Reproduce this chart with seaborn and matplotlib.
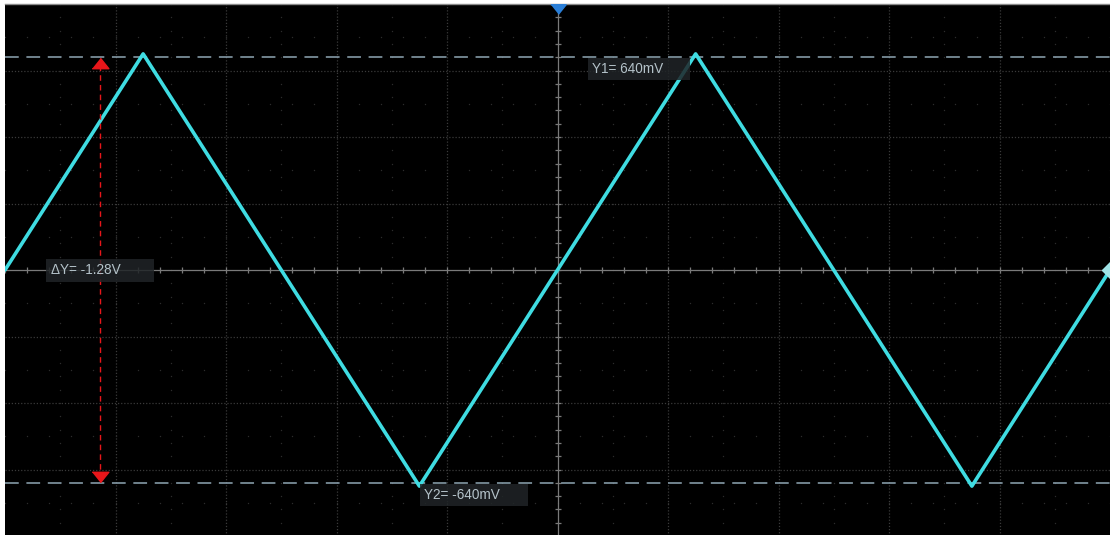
import numpy as np
import pandas as pd
import matplotlib
matplotlib.use("Agg")
import matplotlib.pyplot as plt
import seaborn as sns

# ---- data (time in divisions, voltage in mV) ----
wave_t = [-5.0, -3.75, -1.25, 1.25, 3.75, 5.0]
wave_mv = [0, 650, -650, 650, -650, 0]
cursor_y1 = 640
cursor_y2 = -640
cursor_x = -4.136
label_y1 = "Y1= 640mV"
label_y2 = "Y2= -640mV"
label_dy = "ΔY= -1.28V"

sns.set_style("dark")
plt.rcParams['font.family'] = ['Liberation Sans', 'DejaVu Sans']

fig = plt.figure(figsize=(11.10, 5.35), dpi=100, facecolor='white')
ax = fig.add_axes([5/1110, -1/535, 1105/1110, 532/535])
ax.set_facecolor('black')
ax.set_xlim(-5, 5)
ax.set_ylim(-800, 800)
ax.set_xticks([]); ax.set_yticks([])
for s in ['left', 'right', 'bottom']:
    ax.spines[s].set_visible(False)
ax.spines['top'].set_color('#8a8a8a')
ax.spines['top'].set_linewidth(1.0)
ax.grid(False)

px_x = 10 / 1105.0   # div per pixel
px_y = 1600 / 532.0  # mV per pixel

# main grid (dense dotted)
grid_col = '#3a3a3a'
for gx in range(-4, 5):
    if gx != 0:
        ax.axvline(gx, color=grid_col, lw=0.9, ls=(0, (1, 1.5)), zorder=1)
for gy in range(-600, 601, 200):
    if gy != 0:
        ax.axhline(gy, color=grid_col, lw=0.9, ls=(0, (1, 1.5)), zorder=1)

# sparse dots on half-division lines
minor_x = np.arange(-5, 5.01, 0.2)
minor_y = np.arange(-800, 801, 40)
for hy in [-700, -500, -300, -100, 100, 300, 500, 700]:
    ax.scatter(minor_x, np.full_like(minor_x, hy), s=1.0, color='#2c2c2c', zorder=1, linewidths=0)
for hx in [-4.5, -3.5, -2.5, -1.5, -0.5, 0.5, 1.5, 2.5, 3.5, 4.5]:
    ax.scatter(np.full_like(minor_y, hx, dtype=float), minor_y, s=1.0, color='#2c2c2c', zorder=1, linewidths=0)

# center axes with ticks
axis_col = '#7a7a7a'
ax.axhline(0, color=axis_col, lw=0.9, zorder=2)
ax.axvline(0, color=axis_col, lw=0.9, zorder=2)
ax.vlines(minor_x, -3 * px_y, 3 * px_y, color=axis_col, lw=0.9, zorder=2)
ax.hlines(minor_y, -3 * px_x, 3 * px_x, color=axis_col, lw=0.9, zorder=2)

# cursors
cur_col = '#8fa6b4'
ax.axhline(cursor_y1, color=cur_col, lw=1.1, ls=(0, (9, 5)), zorder=3)
ax.axhline(cursor_y2, color=cur_col, lw=1.1, ls=(0, (9, 5)), zorder=3)

# waveform
df = pd.DataFrame({"t": wave_t, "mv": wave_mv})
sns.lineplot(data=df, x="t", y="mv", sort=False, color='#3fdce2', lw=2.6, ax=ax, zorder=4)
ax.set_xlabel(""); ax.set_ylabel("")

# delta-Y red arrow
red = '#e8161a'
up_tri = [(-8, -5), (8, -5), (0, 5)]
dn_tri = [(-8, 5), (8, 5), (0, -5)]
ax.plot([cursor_x, cursor_x], [cursor_y1 - 8 * px_y, cursor_y2 + 8 * px_y], color=red, lw=1.0,
        ls=(0, (4, 3)), zorder=5)
ax.plot([cursor_x], [cursor_y1 - 5.5 * px_y], marker=up_tri, ms=12, color=red, ls='none', zorder=6)
ax.plot([cursor_x], [cursor_y2 + 5.5 * px_y], marker=dn_tri, ms=12, color=red, ls='none', zorder=6)

# trigger markers
ax.plot([0], [800 - 4.5 * px_y], marker=dn_tri, ms=11, color='#2a7fd8', ls='none', zorder=7, clip_on=False)
ax.plot([5], [0], marker='D', ms=8, color='#9fe3e6', ls='none', zorder=7, clip_on=False)

# label boxes
box_fc = '#202427'
txt_col = '#b4c2c9'
def label(x0, x1, ytop_px, ybot_px, text):
    y0 = (270 - ybot_px) * px_y
    y1 = (270 - ytop_px) * px_y
    ax.add_patch(plt.Rectangle(((x0 - 558) * px_x, y0), (x1 - x0) * px_x, y1 - y0,
                               facecolor=box_fc, edgecolor='none', alpha=0.85, zorder=8))
    ax.text((x0 + 5 - 558) * px_x, (y0 + y1) / 2, text, color=txt_col, fontsize=9.8,
            va='center', ha='left', zorder=9)

label(588, 690, 58, 80, label_y1)
label(47, 155, 259, 282, label_dy)
label(420, 528, 484, 506, label_y2)

fig.savefig("out.png", dpi=100, facecolor='white')
